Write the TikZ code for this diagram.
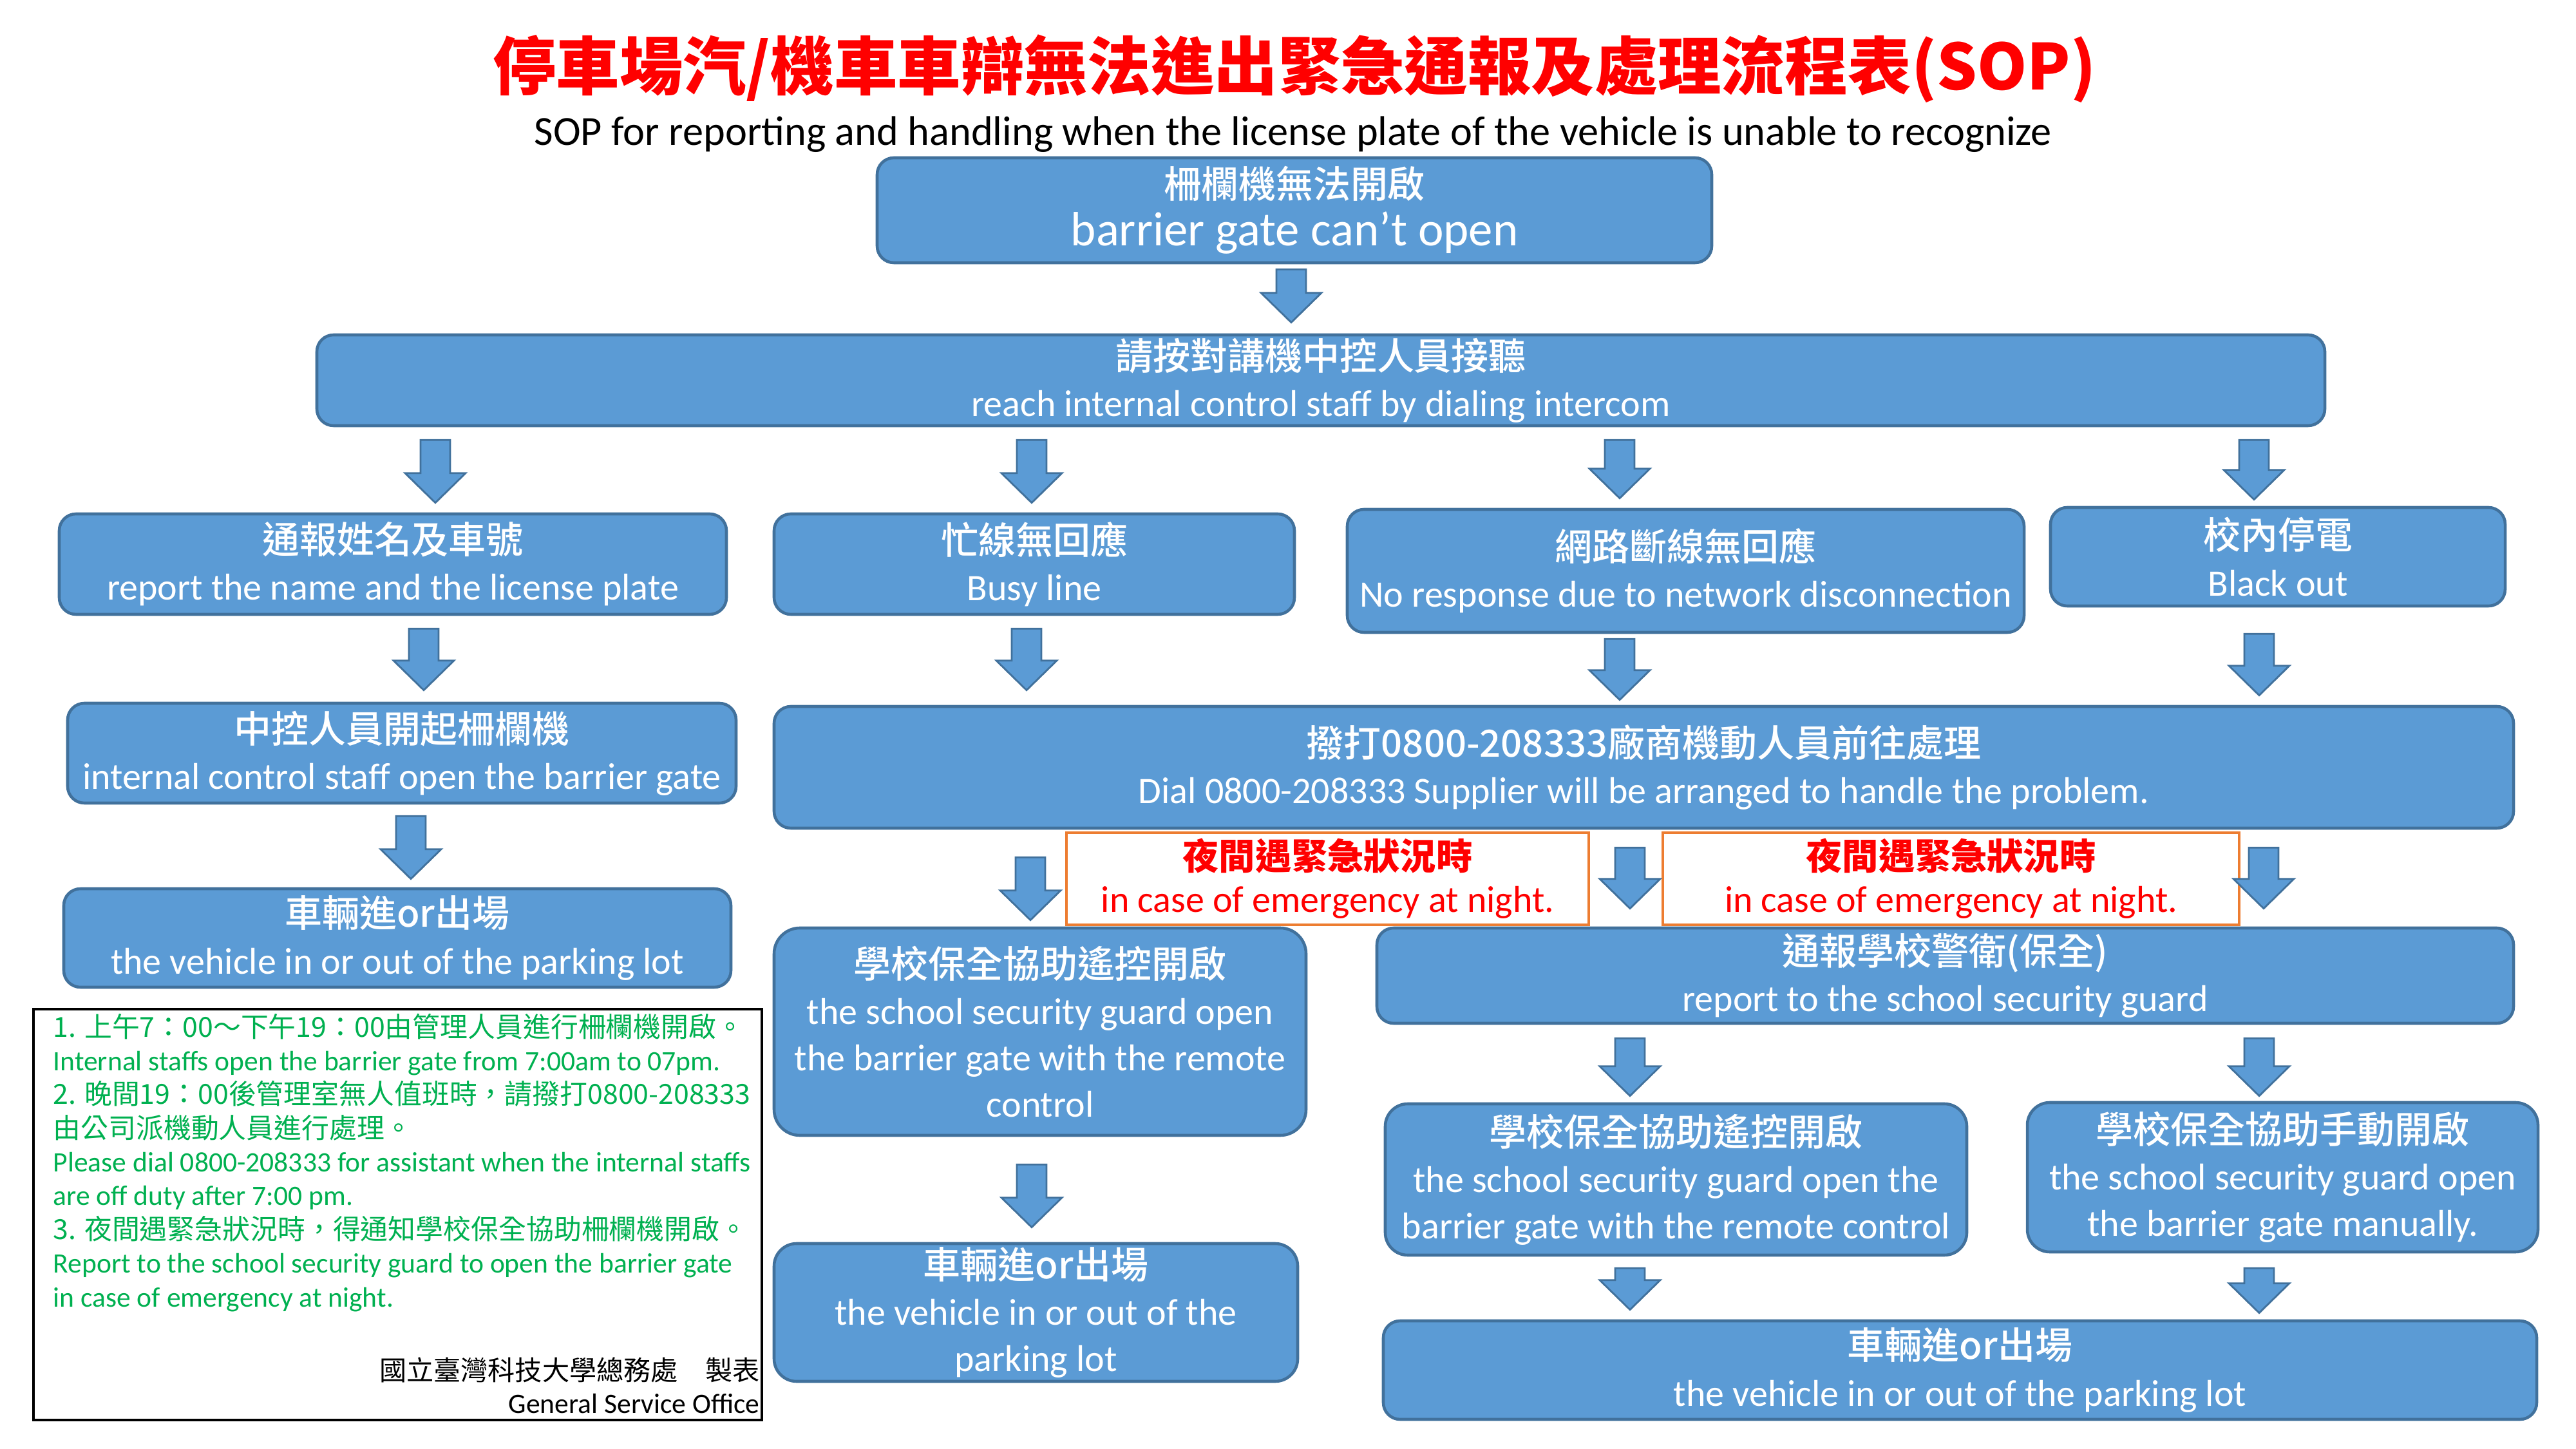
\documentclass[tikz,border=0pt]{standalone}
\usepackage{fontspec}
\setmainfont{Carlito}
\newfontfamily\tcfont{Noto Sans CJK TC}
\newfontfamily\tcmedium{Noto Sans CJK TC Medium}
\usetikzlibrary{calc}
\definecolor{sopblue}{HTML}{5B9BD5}
\definecolor{sopedge}{HTML}{41719C}
\definecolor{soporange}{HTML}{ED7D31}
\definecolor{sopred}{HTML}{FF0000}
\definecolor{sopgreen}{HTML}{00B050}
\newcommand\sopzh[1]{{\tcmedium\fontsize{16.5}{20.5}\selectfont #1}}
\tikzset{
  gaptop/.initial=2mm,
  gapbot/.initial=1.5mm,
  sopbox/.style={
    rectangle, rounded corners=2.6mm, draw=sopedge, fill=sopblue,
    line width=1.3pt, text=white, align=center, inner sep=0pt,
    font=\fontsize{16.5}{20.5}\selectfont
  },
  sopnight/.style={
    rectangle, draw=soporange, fill=white, line width=1pt,
    text=sopred, align=center, inner sep=0pt,
    font=\fontsize{16.5}{18.8}\selectfont
  },
  sopnote/.style={rectangle, draw=black, line width=1.2pt, inner sep=0pt},
  soparrow/.style={
    draw=sopedge, fill=sopblue, line width=0.8pt,
    to path={
      let \p1=(\tikztostart), \p2=(\tikztotarget),
          \n1={\y1-\pgfkeysvalueof{/tikz/gaptop}},
          \n2={\y2+\pgfkeysvalueof{/tikz/gapbot}},
          \n3={\n2+4.6mm} in
      (\x1-2.3mm,\n1) -- (\x1+2.3mm,\n1) -- (\x1+2.3mm,\n3) -- (\x1+4.7mm,\n3)
      -- (\x1,\n2) -- (\x1-4.7mm,\n3) -- (\x1-2.3mm,\n3) -- cycle
    }
  }
}
\begin{document}
\begin{tikzpicture}
\useasboundingbox (0,0) rectangle (40,-22.5);
% heading
\node[font=\tcfont\bfseries\fontsize{28}{34}\selectfont, text=sopred] (title) at (20.10,-1.07)
  {停車場汽/機車車辯無法進出緊急通報及處理流程表(SOP)};
\node[font=\fontsize{18.3}{21}\selectfont] (subtitle) at (20.08,-2.09)
  {SOP for reporting and handling when the license plate of the vehicle is unable to recognize};

\node[sopbox, minimum width=12.96cm, minimum height=1.63cm, font=\fontsize{21.3}{21}\selectfont] (n1) at (20.10,-3.265)
  {\sopzh{柵欄機無法開啟}\\barrier gate can’t open};
\node[sopbox, minimum width=31.18cm, minimum height=1.41cm] (n2) at (20.51,-5.905)
  {\sopzh{請按對講機中控人員接聽}\\reach internal control staff by dialing intercom};

\node[sopbox, minimum width=10.36cm, minimum height=1.56cm] (n3a) at (6.10,-8.76)
  {\sopzh{通報姓名及車號}\\report the name and the license plate};
\node[sopbox, minimum width=8.08cm, minimum height=1.56cm] (n3b) at (16.06,-8.76)
  {\sopzh{忙線無回應}\\Busy line};
\node[sopbox, minimum width=10.51cm, minimum height=1.91cm] (n3c) at (26.175,-8.865)
  {\sopzh{網路斷線無回應}\\No response due to network disconnection};
\node[sopbox, minimum width=7.06cm, minimum height=1.53cm] (n3d) at (35.37,-8.645)
  {\sopzh{校內停電}\\Black out};

\node[sopbox, minimum width=10.38cm, minimum height=1.55cm] (n4a) at (6.24,-11.695)
  {\sopzh{中控人員開起柵欄機}\\internal control staff open the barrier gate};
\node[sopbox, minimum width=27.01cm, minimum height=1.89cm] (n4b) at (25.525,-11.915)
  {\sopzh{撥打0800-208333廠商機動人員前往處理}\\Dial 0800-208333 Supplier will be arranged to handle the problem.};

\node[sopbox, minimum width=10.36cm, minimum height=1.53cm] (n5a) at (6.17,-14.565)
  {\sopzh{車輛進or出場}\\the vehicle in or out of the parking lot};
\node[sopnight, minimum width=8.11cm, minimum height=1.43cm] (night1) at (20.615,-13.645)
  {{\tcfont\bfseries\fontsize{16}{18.8}\selectfont 夜間遇緊急狀況時}\\in case of emergency at night.};
\node[sopnight, minimum width=8.95cm, minimum height=1.43cm] (night2) at (30.295,-13.645)
  {{\tcfont\bfseries\fontsize{16}{18.8}\selectfont 夜間遇緊急狀況時}\\in case of emergency at night.};

\node[sopbox, rounded corners=4mm, minimum width=8.26cm, minimum height=3.22cm] (n6) at (16.15,-16.02)
  {\sopzh{學校保全協助遙控開啟}\\the school security guard open\\the barrier gate with the remote\\control};
\node[sopbox, minimum width=17.65cm, minimum height=1.48cm] (n7) at (30.205,-15.15)
  {\sopzh{通報學校警衛(保全)}\\report to the school security guard};
\node[sopbox, rounded corners=3.5mm, minimum width=9.03cm, minimum height=2.35cm] (n8) at (26.025,-18.315)
  {\sopzh{學校保全協助遙控開啟}\\the school security guard open the\\barrier gate with the remote control};
\node[sopbox, rounded corners=3.5mm, minimum width=7.93cm, minimum height=2.32cm] (n9) at (35.445,-18.28)
  {\sopzh{學校保全協助手動開啟}\\the school security guard open\\the barrier gate manually.};
\node[sopbox, rounded corners=3.5mm, minimum width=8.13cm, minimum height=2.14cm] (n10) at (16.085,-20.38)
  {\sopzh{車輛進or出場}\\the vehicle in or out of the\\parking lot};
\node[sopbox, minimum width=17.91cm, minimum height=1.53cm] (n11) at (30.435,-21.275)
  {\sopzh{車輛進or出場}\\the vehicle in or out of the parking lot};

% notes
\node[sopnote, anchor=north west, minimum width=11.31cm, minimum height=6.38cm] (notes) at (0.50,-15.65) {};
\node[anchor=north west, align=left, text=sopgreen, inner sep=0pt, font=\fontsize{12.4}{14.9}\selectfont] (notetext) at (0.82,-15.73)
  {{\tcfont\fontsize{12.2}{14.9}\selectfont 1. 上午7：00～下午19：00由管理人員進行柵欄機開啟。}\\
   Internal staffs open the barrier gate from 7:00am to 07pm.\\
   {\tcfont\fontsize{12.2}{14.9}\selectfont 2. 晚間19：00後管理室無人值班時，請撥打0800-208333}\\
   {\tcfont\fontsize{12.2}{14.9}\selectfont 由公司派機動人員進行處理。}\\
   Please dial 0800-208333 for assistant when the internal staffs\\
   are off duty after 7:00 pm.\\
   {\tcfont\fontsize{12.2}{14.9}\selectfont 3. 夜間遇緊急狀況時，得通知學校保全協助柵欄機開啟。}\\
   Report to the school security guard to open the barrier gate\\
   in case of emergency at night.};
\node[anchor=south east, align=right, inner sep=0pt, font=\fontsize{12.4}{14.5}\selectfont] (maker) at ([shift={(-0.05,0.12)}]notes.south east)
  {{\tcfont\fontsize{12}{14.5}\selectfont 國立臺灣科技大學總務處　製表}\\General Service Office};

% block arrows
\draw[soparrow, gaptop=0.8mm, gapbot=1.7mm] (20.05,0 |- n1.south) to (20.05,0 |- n2.north);
\draw[soparrow] (6.76,0 |- n2.south) to (6.76,0 |- n3a.north);
\draw[soparrow] (16.02,0 |- n2.south) to (16.02,0 |- n3b.north);
\draw[soparrow] (25.15,0 |- n2.south) to (25.15,0 |- n3c.north);
\draw[soparrow, gapbot=1mm] (35.00,0 |- n2.south) to (35.00,0 |- n3d.north);
\draw[soparrow, gapbot=1.8mm] (6.58,0 |- n3a.south) to (6.58,0 |- n4a.north);
\draw[soparrow, gapbot=2.3mm] (15.94,0 |- n3b.south) to (15.94,0 |- n4b.north);
\draw[soparrow, gaptop=0.8mm, gapbot=0.8mm] (25.15,0 |- n3c.south) to (25.15,0 |- n4b.north);
\draw[soparrow, gaptop=4.1mm] (35.08,0 |- n3d.south) to (35.08,0 |- n4b.north);
\draw[soparrow, gaptop=1.8mm, gapbot=1.3mm] (6.38,0 |- n4a.south) to (6.38,0 |- n5a.north);
\draw[soparrow, gaptop=4.3mm, gapbot=1mm] (16.00,0 |- n4b.south) to (16.00,0 |- n6.north);
\draw[soparrow, gaptop=2.8mm, gapbot=2.8mm] (25.31,0 |- n4b.south) to (25.31,0 |- n7.north);
\draw[soparrow, gaptop=2.8mm, gapbot=2.8mm] (35.15,0 |- n4b.south) to (35.15,0 |- n7.north);
\draw[soparrow, gaptop=4.3mm, gapbot=2.3mm] (16.02,0 |- n6.south) to (16.02,0 |- n10.north);
\draw[soparrow, gaptop=2.1mm, gapbot=1mm] (25.31,0 |- n7.south) to (25.31,0 |- n8.north);
\draw[soparrow, gaptop=2.1mm, gapbot=0.8mm] (35.08,0 |- n7.south) to (35.08,0 |- n9.north);
\draw[soparrow, gaptop=1.8mm, gapbot=1.5mm] (25.31,0 |- n8.south) to (25.31,0 |- n11.north);
\draw[soparrow, gaptop=2.3mm, gapbot=1mm] (35.08,0 |- n9.south) to (35.08,0 |- n11.north);
\end{tikzpicture}
\end{document}
